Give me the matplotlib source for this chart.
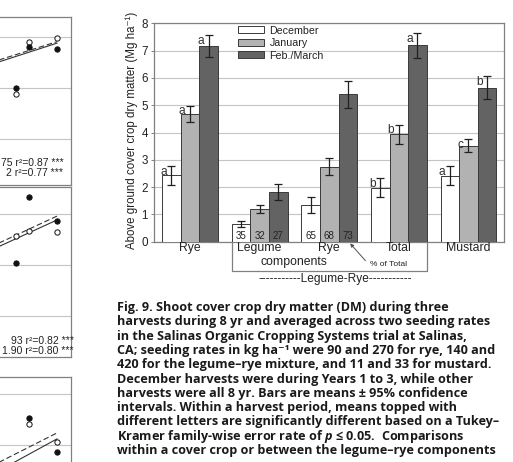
import matplotlib
matplotlib.use("Agg")
import matplotlib.pyplot as plt
import matplotlib.transforms as mtransforms
from matplotlib.patches import Patch
import numpy as np

CAPTION_FONT = "Open Sans"
plt.rcParams["font.family"] = ["Liberation Sans", "DejaVu Sans"]
plt.rcParams["mathtext.fontset"] = "custom"
plt.rcParams["mathtext.rm"] = CAPTION_FONT + ":bold"
plt.rcParams["mathtext.it"] = CAPTION_FONT + ":bold:italic"
plt.rcParams["mathtext.bf"] = CAPTION_FONT + ":bold"

# ---------------- bar chart data ----------------
tick_labels = ["Rye", "Legume", "Rye", "Total", "Mustard"]
harvests = ["December", "January", "Feb./March"]
dec = [2.43, 0.65, 1.34, 1.98, 2.41]
jan = [4.68, 1.19, 2.75, 3.94, 3.52]
feb = [7.17, 1.83, 5.40, 7.19, 5.64]
dec_ci = [0.34, 0.12, 0.30, 0.35, 0.35]
jan_ci = [0.30, 0.15, 0.30, 0.35, 0.23]
feb_ci = [0.40, 0.29, 0.50, 0.45, 0.42]
dec_letters = ["a", "", "", "b", "a"]
jan_letters = ["a", "", "", "b", "c"]
feb_letters = ["a", "", "", "a", "b"]
pct_legume = [35, 32, 27]
pct_rye = [65, 68, 73]

# ---------------- trend panel data (two seeding rates) ----------------
years_p1 = [5, 6, 8]
p1_low = [5.77, 7.80, 7.98]
p1_high = [6.02, 7.62, 7.52]
p1_fit_low = (6.46, 0.170)
p1_fit_high = (6.37, 0.174)
p1_notes = ["75 r\u00b2=0.87 ***", "2 r\u00b2=0.77 ***"]

years_p2_low = [5, 6, 8]
p2_low = [5.14, 5.34, 5.29]
years_p2_high = [5, 6, 8]
p2_high = [4.08, 6.67, 5.72]
p2_fit_low = (3.92, 0.250)
p2_fit_high = (3.80, 0.246)
p2_notes = ["93 r\u00b2=0.82 ***", "1.90 r\u00b2=0.80 ***"]

years_p3 = [6, 8]
p3_low = [6.81, 6.12]
p3_high = [7.05, 5.72]
p3_fit_low = (4.28, 0.273)
p3_fit_high = (3.87, 0.295)

caption_lines = [
    "Fig. 9. Shoot cover crop dry matter (DM) during three",
    "harvests during 8 yr and averaged across two seeding rates",
    "in the Salinas Organic Cropping Systems trial at Salinas,",
    "CA; seeding rates in kg ha\u207b\u00b9 were 90 and 270 for rye, 140 and",
    "420 for the legume\u2013rye mixture, and 11 and 33 for mustard.",
    "December harvests were during Years 1 to 3, while other",
    "harvests were all 8 yr. Bars are means \u00b1 95% confidence",
    "intervals. Within a harvest period, means topped with",
    "different letters are significantly different based on a Tukey\u2013",
    "Kramer family-wise error rate of $p$ \u2264 0.05.  Comparisons",
    "within a cover crop or between the legume\u2013rye components",
]

W, H = 513, 462
fig = plt.figure(figsize=(W / 100, H / 100), dpi=100)
fig.patch.set_facecolor("white")


def px_rect(left, top, right, bottom):
    return [left / W, 1 - bottom / H, (right - left) / W, (bottom - top) / H]


GRID = "#c4c4c4"
FRAME = "#808080"
INK = "#222222"

# ---------------- main bar chart ----------------
ax = fig.add_axes(px_rect(154, 23.3, 504, 241.7))
x = np.arange(len(tick_labels))
w = 0.267
colors = ["white", "#b2b2b2", "#636363"]
series = [(dec, dec_ci, dec_letters), (jan, jan_ci, jan_letters), (feb, feb_ci, feb_letters)]
for i, (vals, ci, letters) in enumerate(series):
    xs = x + (i - 1) * w
    ax.bar(xs, vals, width=w, color=colors[i], edgecolor="#3a3a3a", linewidth=0.7,
           zorder=3, label=harvests[i])
    ax.errorbar(xs, vals, yerr=ci, fmt="none", ecolor="#202020", elinewidth=0.9,
                capsize=2.6, capthick=0.9, zorder=4)
    for xi, v, c, lab in zip(xs, vals, ci, letters):
        if lab:
            ax.annotate(lab, (xi, v + c), xytext=(-5.6, -6.3), textcoords="offset points",
                        ha="center", va="baseline", fontsize=8.6, color="#303030")

for j, p in enumerate(pct_legume):
    ax.text(1 + (j - 1) * w, 0.09, str(p), ha="center", va="baseline", fontsize=7, color=INK, zorder=5)
for j, p in enumerate(pct_rye):
    ax.text(2 + (j - 1) * w, 0.09, str(p), ha="center", va="baseline", fontsize=7, color=INK, zorder=5)

ax.set_xlim(-0.517, 4.51)
ax.set_ylim(0, 8)
ax.set_yticks(range(0, 9))
ax.yaxis.grid(True, color=GRID, linewidth=0.8, zorder=0)
ax.set_xticks([])
ax.tick_params(axis="y", length=2.5, width=0.7, color=FRAME, pad=2, labelsize=8.4, labelcolor=INK)
for s in ax.spines.values():
    s.set_color(FRAME)
    s.set_linewidth(0.9)

tr = mtransforms.blended_transform_factory(ax.transData, ax.transAxes)
axis_h = 218.4
for xi, lab in zip(x, tick_labels):
    ax.text(xi, -9.6 / axis_h, lab, transform=tr, ha="center", va="baseline",
            fontsize=8.8, color=INK)
ax.text(1.5, -23.8 / axis_h, "components", transform=tr, ha="center", va="baseline",
        fontsize=8.8, color=INK)

# bracket box around the legume-rye components
bx0, bx1 = 1 - 1.5 * w, 3 + 1.5 * w
by = -29.3 / axis_h
ax.plot([bx0, bx0, bx1, bx1], [0, by, by, 0], transform=tr, color=FRAME,
        linewidth=0.9, clip_on=False)
ax.text(2.845, -22.3 / axis_h, "% of Total", transform=tr, ha="center", va="center",
        fontsize=6, color=INK)
ax.annotate("", xy=(2.30, -0.008), xytext=(2.52, -0.087), xycoords=tr, textcoords=tr,
            arrowprops=dict(arrowstyle="-|>", color="#505050", lw=0.7,
                            mutation_scale=5, shrinkA=0, shrinkB=0))
ax.text(2.08, -37.5 / axis_h, "-----------Legume-Rye-----------", transform=tr,
        ha="center", va="center", fontsize=8.6, color=INK)

fig.text(131.5 / W, 1 - 130 / H, "Above ground cover crop dry matter (Mg ha\u207b\u00b9)",
         rotation=90, ha="center", va="center", fontsize=8.3, color=INK)

handles = [Patch(facecolor=c, edgecolor="#3a3a3a", linewidth=0.7) for c in colors]
ax.legend(handles, harvests, loc="upper left", bbox_to_anchor=(238 / W, 1 - 25.5 / H),
          bbox_transform=fig.transFigure, frameon=False, fontsize=7.7, borderpad=0,
          borderaxespad=0, handlelength=2.4, handleheight=0.65, handletextpad=0.55,
          labelspacing=0.24, labelcolor=INK)


# ---------------- trend panels on the left ----------------
def trend_panel(rect, ylim, grid_vals, yrs_low, low, yrs_high, high, fit_low, fit_high,
                notes=None, note_y=None, note_right=63.5):
    pa = fig.add_axes(rect)
    pa.set_xlim(0, 9)
    pa.set_ylim(*ylim)
    for g in grid_vals:
        pa.axhline(g, color=GRID, linewidth=0.8, zorder=0)
    xx = np.array([0.0, 8.0])
    pa.plot(xx, fit_low[0] + fit_low[1] * xx, color="#333333", linewidth=0.8,
            linestyle=(0, (5, 2.5)), zorder=2)
    pa.plot(xx, fit_high[0] + fit_high[1] * xx, color="#333333", linewidth=0.8, zorder=2)
    pa.plot(yrs_low, low, "o", markersize=3.8, markerfacecolor="white",
            markeredgecolor="#111111", markeredgewidth=0.7, zorder=3)
    pa.plot(yrs_high, high, "o", markersize=3.8, markerfacecolor="#111111",
            markeredgecolor="#111111", markeredgewidth=0.7, zorder=3)
    pa.set_xticks([])
    pa.set_yticks([])
    for s in pa.spines.values():
        s.set_color(FRAME)
        s.set_linewidth(0.9)
    if notes:
        for t, yy in zip(notes, note_y):
            fig.text(note_right / W, 1 - yy / H, t, ha="right", va="center",
                     fontsize=7.5, color=INK)
    return pa


trend_panel(px_rect(-53, 16.7, 70.7, 185), (2.2, 8.8), [4, 6, 8],
            years_p1, p1_low, years_p1, p1_high, p1_fit_low, p1_fit_high,
            p1_notes, [163.3, 173.3], 63.5)
trend_panel(px_rect(-53, 187.3, 70.7, 356.7), (0.41, 7.05), [2, 4, 6],
            years_p2_low, p2_low, years_p2_high, p2_high, p2_fit_low, p2_fit_high,
            p2_notes, [341, 351], 74)
trend_panel(px_rect(-53, 376.7, 70.7, 520), (3.05, 8.67), [6, 8],
            years_p3, p3_low, years_p3, p3_high, p3_fit_low, p3_fit_high)

# ---------------- caption ----------------
cap_left = 117
# right ends of a few reference lines: (line index, x of line end)
cap_line_ends = [(0, 453), (3, 490), (8, 493)]
cap_texts = []
for k, line in enumerate(caption_lines):
    t = fig.text(cap_left / W, 1 - (311 + 14.3 * k) / H, line, ha="left", va="baseline",
                 fontsize=8.6, fontweight="bold", color="#1a1a1a",
                 family=[CAPTION_FONT, "DejaVu Sans"])
    cap_texts.append(t)

# size the caption so its lines fill the column width
renderer = fig.canvas.get_renderer()
ratios = [(end - cap_left) / cap_texts[k].get_window_extent(renderer).width
          for k, end in cap_line_ends]
size = 8.6 * float(np.mean(ratios))
for t in cap_texts:
    t.set_fontsize(size)

fig.savefig("out.png", dpi=100, facecolor="white")
